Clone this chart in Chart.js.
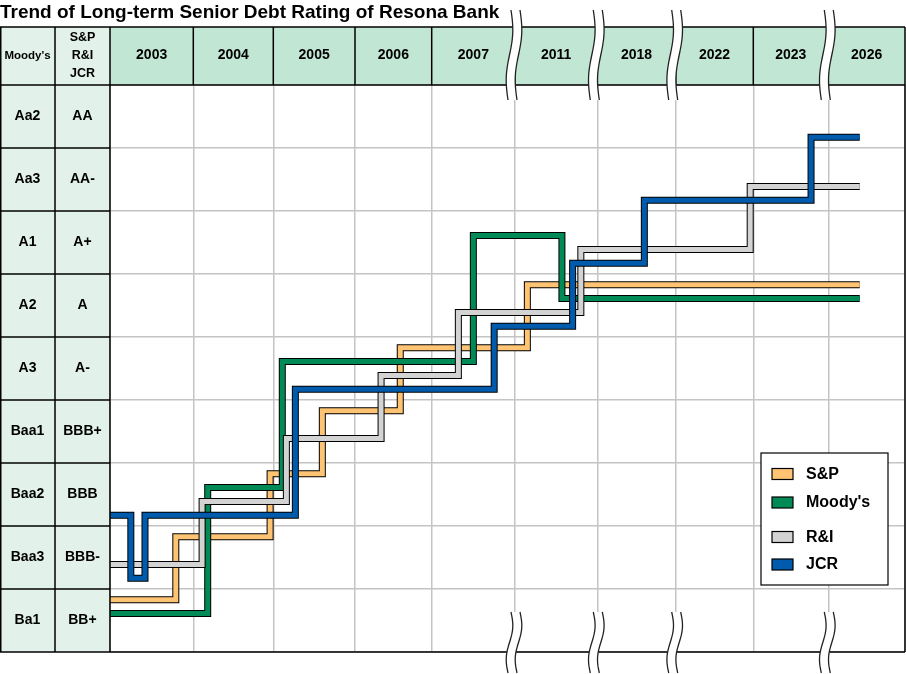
<!DOCTYPE html>
<html>
<head>
<meta charset="utf-8">
<script src="https://cdn.jsdelivr.net/npm/chart.js@4.4.1/dist/chart.umd.min.js"></script>
<style>
html,body{margin:0;padding:0;background:#fff;}
#c{display:block;}
</style>
</head>
<body>
<canvas id="c" width="906" height="674"></canvas>
<script>
// ---------------- data ----------------
const years = ['2003', '2004', '2005', '2006', '2007', '2011', '2018', '2022', '2023', '2026'];
const breakAfterYears = ['2007', '2011', '2018', '2023'];
const moodysLabels = ['Ba1', 'Baa3', 'Baa2', 'Baa1', 'A3', 'A2', 'A1', 'Aa3', 'Aa2'];
const spLabels = ['BB+', 'BBB-', 'BBB', 'BBB+', 'A-', 'A', 'A+', 'AA-', 'AA'];
const seriesNames = ['S&P', "Moody's", 'R&I', 'JCR'];
// x = year-column index + fraction of that column, y = rating index (0 = Ba1 / BB+)
const spX = [0, 0.79, 1.96, 2.60, 3.59, 5.15, 9.41];
const spY = [0, 1, 2, 3, 4, 5, 5];
const moodysX = [0, 1.18, 2.11, 4.50, 5.57, 9.41];
const moodysY = [0, 2, 4, 6, 5, 5];
const riX = [0, 1.11, 2.16, 3.34, 4.32, 5.80, 7.96, 9.41];
const riY = [1, 2, 3, 4, 5, 6, 7, 7];
const jcrX = [0, 0.25, 0.42, 2.27, 4.75, 5.70, 6.60, 8.77, 9.41];
const jcrY = [2, 1, 2, 4, 5, 6, 7, 8, 8];

// ---------------- style ----------------
const FONT = "'Liberation Sans', Arial, sans-serif";
const seriesColors = ['#FFC374', '#008A55', '#D3D3D3', '#005BAC'];
const laneOffset = [0.33, 0.11, -0.11, -0.33];
const columnWidths = [83.3, 80, 81.7, 76.7, 83.3, 82.3, 78.4, 77.6, 75, 76.7];
const GRID = '#C4C4C4';

const totalW = columnWidths.reduce((a, b) => a + b, 0);
function colDecimal(v) {
  let acc = 0;
  const n = columnWidths.length;
  if (v <= 0) return v * columnWidths[0] / totalW;
  for (let i = 0; i < n; i++) {
    if (v <= i + 1) return (acc + (v - i) * columnWidths[i]) / totalW;
    acc += columnWidths[i];
  }
  return (acc + (v - n) * columnWidths[n - 1]) / totalW;
}
function colValue(d) {
  let target = d * totalW, acc = 0;
  const n = columnWidths.length;
  if (target <= 0) return target / columnWidths[0];
  for (let i = 0; i < n; i++) {
    if (target <= acc + columnWidths[i]) return i + (target - acc) / columnWidths[i];
    acc += columnWidths[i];
  }
  return n + (target - acc) / columnWidths[n - 1];
}

class ColumnScale extends Chart.LinearScale {
  getPixelForValue(value) { return this.getPixelForDecimal(colDecimal(value)); }
  getValueForPixel(pixel) { return colValue(this.getDecimalForPixel(pixel)); }
}
ColumnScale.id = 'column';
ColumnScale.defaults = Chart.LinearScale.defaults;
Chart.register(ColumnScale);

const seriesX = [spX, moodysX, riX, jcrX];
const seriesY = [spY, moodysY, riY, jcrY];
const datasets = [];
seriesNames.forEach((name, k) => {
  const mk = () => seriesX[k].map((x, i) => ({ x: x, y: seriesY[k][i] + laneOffset[k] }));
  const base = {
    stepped: true, pointRadius: 0, pointHoverRadius: 0, fill: false, tension: 0,
    borderCapStyle: 'butt', borderJoinStyle: 'miter', xAxisID: 'x', yAxisID: 'yS'
  };
  datasets.push(Object.assign({}, base, {
    label: name + ' outline', data: mk(), borderColor: '#000', borderWidth: 7,
    order: 2 * (seriesNames.length - k)
  }));
  datasets.push(Object.assign({}, base, {
    label: name, data: mk(), borderColor: seriesColors[k], backgroundColor: seriesColors[k],
    borderWidth: 5, order: 2 * (seriesNames.length - k) - 1
  }));
});

function drawBreak(ctx, cx, y0, y1) {
  const n = 40, half = 4.5;
  const off = t => 2.5 * Math.sin(2 * Math.PI * t) + 3 * (0.5 - t);
  ctx.beginPath();
  for (let i = 0; i <= n; i++) {
    const t = i / n, y = y0 + (y1 - y0) * t, x = cx - half + off(t);
    if (i === 0) ctx.moveTo(x, y); else ctx.lineTo(x, y);
  }
  for (let i = n; i >= 0; i--) {
    const t = i / n, y = y0 + (y1 - y0) * t, x = cx + half + off(t);
    ctx.lineTo(x, y);
  }
  ctx.closePath();
  ctx.fillStyle = '#fff';
  ctx.fill();
  ctx.strokeStyle = '#222';
  ctx.lineWidth = 1.3;
  [-half, half].forEach(h => {
    ctx.beginPath();
    for (let i = 0; i <= n; i++) {
      const t = i / n, y = y0 + (y1 - y0) * t, x = cx + h + off(t);
      if (i === 0) ctx.moveTo(x, y); else ctx.lineTo(x, y);
    }
    ctx.stroke();
  });
}

const tablePlugin = {
  id: 'table',
  beforeDraw(chart) {
    const { ctx, chartArea: a, scales } = chart;
    const xs = scales.x;
    ctx.save();
    ctx.fillStyle = '#fff';
    ctx.fillRect(0, 0, chart.width, chart.height);
    ctx.fillStyle = '#C1E6D4';
    ctx.fillRect(a.left, xs.top, a.right - a.left, a.top - xs.top);
    ctx.fillStyle = '#E2F2EA';
    ctx.fillRect(0, xs.top, a.left, a.bottom - xs.top);
    ctx.restore();
  },
  afterDraw(chart) {
    const { ctx, chartArea: a, scales } = chart;
    const xs = scales.x, yS = scales.yS, yM = scales.yM;
    const top = xs.top;
    ctx.save();
    ctx.strokeStyle = '#000';
    ctx.lineWidth = 1.5;
    const line = (x1, y1, x2, y2) => { ctx.beginPath(); ctx.moveTo(x1, y1); ctx.lineTo(x2, y2); ctx.stroke(); };
    line(0, top, a.right, top);
    line(0, a.top, a.right, a.top);
    line(0, a.bottom, a.right, a.bottom);
    for (let i = 0; i < moodysLabels.length - 1; i++) {
      const y = yS.getPixelForValue(i + 0.5);
      line(0, y, a.left, y);
    }
    line(0.75, top, 0.75, a.bottom);
    line(yM.right, top, yM.right, a.bottom);
    line(a.left, top, a.left, a.bottom);
    line(a.right, top, a.right, a.bottom);
    for (let k = 1; k < years.length; k++) {
      const x = xs.getPixelForValue(k);
      line(x, top, x, a.top);
    }
    // header texts of the rating columns
    const mid = (top + a.top) / 2;
    ctx.fillStyle = '#000';
    ctx.textAlign = 'center';
    ctx.textBaseline = 'middle';
    ctx.font = 'bold 11.5px ' + FONT;
    ctx.fillText("Moody's", (yM.left + yM.right) / 2, mid);
    ctx.font = 'bold 12.5px ' + FONT;
    ['S&P', 'R&I', 'JCR'].forEach((t, i) => ctx.fillText(t, (yS.left + yS.right) / 2, mid + (i - 1) * 18));
    // axis breaks
    breakAfterYears.forEach(yr => {
      const cx = xs.getPixelForValue(years.indexOf(yr) + 1) - 1;
      drawBreak(ctx, cx, top - 17, a.top + 15);
      drawBreak(ctx, cx, a.bottom - 40, a.bottom + 21);
    });
    // legend
    const bx = a.right - 144, by = a.bottom - 199, bw = 127, bh = 132;
    ctx.fillStyle = '#fff';
    ctx.fillRect(bx, by, bw, bh);
    ctx.lineWidth = 1.2;
    ctx.strokeStyle = '#000';
    ctx.strokeRect(bx, by, bw, bh);
    const itemY = [21, 49.5, 84, 111.5];
    ctx.font = 'bold 16px ' + FONT;
    ctx.textAlign = 'left';
    seriesNames.forEach((name, k) => {
      const cy = by + itemY[k];
      ctx.fillStyle = seriesColors[k];
      ctx.fillRect(bx + 11, cy - 5.5, 21, 11);
      ctx.strokeRect(bx + 11, cy - 5.5, 21, 11);
      ctx.fillStyle = '#000';
      ctx.fillText(name, bx + 45, cy + 0.5);
    });
    ctx.restore();
  }
};

const tickFont = { family: FONT, size: 14, weight: 'bold' };

new Chart(document.getElementById('c'), {
  type: 'line',
  data: { datasets: datasets },
  plugins: [tablePlugin],
  options: {
    responsive: false,
    animation: false,
    layout: { padding: { left: 0, right: 1, top: 0, bottom: 22 } },
    plugins: {
      legend: { display: false },
      tooltip: { enabled: false },
      title: {
        display: true,
        text: 'Trend of Long-term Senior Debt Rating of Resona Bank',
        align: 'start',
        color: '#000',
        font: { family: FONT, size: 19, weight: 'bold', lineHeight: 1.2 },
        padding: { top: 1.5, bottom: 2.7 }
      }
    },
    scales: {
      x: {
        type: 'column', position: 'top', min: 0, max: 10,
        afterBuildTicks: s => { s.ticks = years.map((_, i) => ({ value: i + 0.5 })); },
        afterFit: s => { s.height = 58; },
        grid: { display: false, drawTicks: false },
        border: { display: false },
        ticks: {
          callback: (v, i) => years[i], autoSkip: false, maxRotation: 0,
          color: '#000', font: tickFont, padding: 21
        }
      },
      xg: {
        type: 'column', position: 'bottom', min: 0, max: 10,
        afterBuildTicks: s => { s.ticks = years.concat(['']).map((_, i) => ({ value: i })); },
        afterFit: s => { s.height = 0; },
        grid: { color: GRID, lineWidth: 1.5, drawTicks: false },
        border: { display: false },
        ticks: { display: false }
      },
      yS: {
        type: 'linear', position: 'left', min: -0.5, max: 8.5, weight: 0,
        afterBuildTicks: s => { s.ticks = spLabels.map((_, i) => ({ value: i })); },
        afterFit: s => { s.width = 55; },
        grid: { offset: true, color: GRID, lineWidth: 1.5, drawTicks: false },
        border: { display: false },
        ticks: {
          callback: (v, i) => spLabels[i], autoSkip: false, crossAlign: 'center',
          padding: 8.3, color: '#000', font: tickFont
        }
      },
      yM: {
        type: 'linear', position: 'left', min: -0.5, max: 8.5, weight: 1,
        afterBuildTicks: s => { s.ticks = moodysLabels.map((_, i) => ({ value: i })); },
        afterFit: s => { s.width = 55; },
        grid: { display: false, drawTicks: false },
        border: { display: false },
        ticks: {
          callback: (v, i) => moodysLabels[i], autoSkip: false, crossAlign: 'center',
          padding: 10.8, color: '#000', font: tickFont
        }
      }
    }
  }
});
</script>
</body>
</html>
